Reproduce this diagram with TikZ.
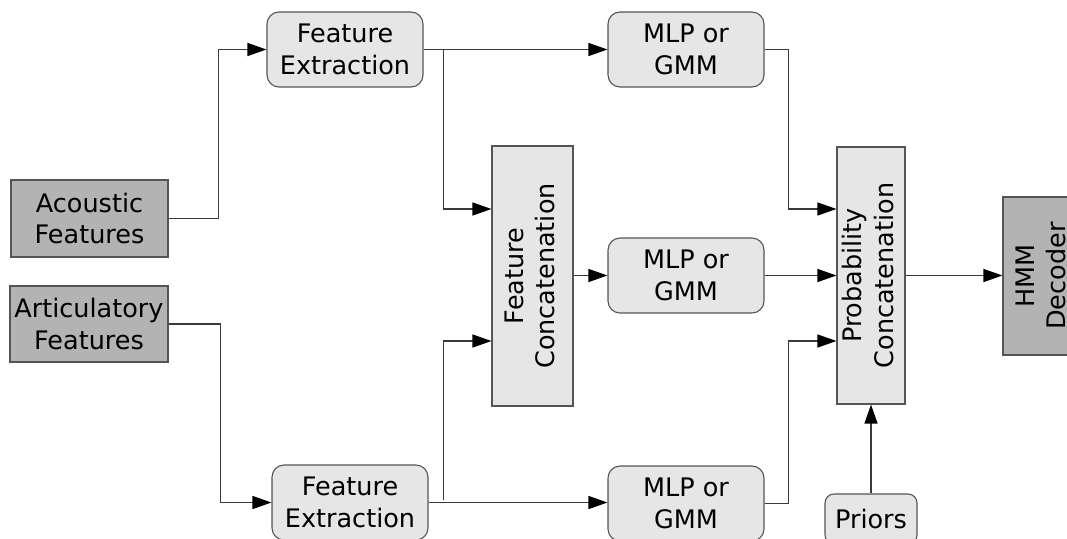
\documentclass[tikz,border=0pt]{standalone}
\usepackage{fontspec}
\setmainfont{DejaVu Sans}
\usetikzlibrary{arrows.meta,positioning,calc}
\definecolor{darkbox}{HTML}{B3B3B3}
\definecolor{lightbox}{HTML}{E6E6E6}
\definecolor{edge}{HTML}{555555}
\definecolor{wire}{HTML}{3A3A3A}
\newcommand{\vtext}[2]{\rotatebox{90}{\begin{tabular}{@{}c@{}}#1\\#2\end{tabular}}}
\begin{document}
\begin{tikzpicture}[x=1pt,y=-1pt,
  every node/.style={font=\fontsize{25.5}{31.5}\selectfont, inner sep=0pt, align=center},
  darkstep/.style={draw=edge, line width=1.1pt, fill=darkbox},
  lightstep/.style={draw=edge, line width=1.1pt, fill=lightbox},
  roundstep/.style={lightstep, rounded corners=12pt},
  conn/.style={draw=wire, line width=1.2pt},
  arr/.style={conn, -{Triangle[length=19pt,width=13pt,color=black]}}
]
\useasboundingbox (0,0) rectangle (1067,538);
\clip (0,0) rectangle (1067,538);
% nodes
\node[darkstep, minimum width=157pt, minimum height=77pt] (ac) at (89.5,218.5) {Acoustic\\Features};
\node[darkstep, minimum width=158pt, minimum height=76pt] (ar) at (89,324) {Articulatory\\Features};
\node[roundstep, minimum width=156pt, minimum height=75pt] (fe1) at (345,49.5) {Feature\\Extraction};
\node[roundstep, minimum width=156pt, minimum height=75pt] (fe2) at (350,502.5) {Feature\\Extraction};
\node[lightstep, minimum width=81pt, minimum height=260pt] (fc) at (532.5,276) {\vtext{Feature}{Concatenation}};
\node[roundstep, minimum width=156pt, minimum height=75pt] (m1) at (686,49.5) {MLP or\\GMM};
\node[roundstep, minimum width=156pt, minimum height=75pt] (m2) at (686,275.5) {MLP or\\GMM};
\node[roundstep, minimum width=156pt, minimum height=75pt] (m3) at (686,503.5) {MLP or\\GMM};
\node[lightstep, minimum width=68pt, minimum height=257pt] (pc) at (871,275.5) {\vtext{Probability}{Concatenation}};
\node[darkstep, minimum width=81pt, minimum height=158pt] (hmm) at (1043.5,276) {\vtext{HMM}{Decoder}};
\node[roundstep, minimum width=92pt, minimum height=50pt, rounded corners=9pt] (pr) at (871,519) {Priors};
% connectors
\draw[arr] (ac.east) -- ++(50,0) |- (fe1.west);
\draw[arr] (ar.east) -- ++(52,0) |- (fe2.west);
\draw[arr] (fe1.east) -- (fe1.east -| m1.west);
\draw[arr] ([xshift=20pt]fe1.east) |- ([yshift=67pt]fc.west);
\draw[arr] (fe2.east) -- (fe2.east -| m3.west);
\draw[arr] ([xshift=15pt,yshift=3pt]fe2.east) |- ([yshift=-65pt]fc.west);
\draw[arr] (fc.east |- m2.west) -- (m2.west);
\draw[arr] (m1.east) -- ++(24,0) |- ([yshift=66.5pt]pc.west);
\draw[arr] (m2.east) -- (m2.east -| pc.west);
\draw[arr] (m3.east) -- ++(24,0) |- ([yshift=-65.5pt]pc.west);
\draw[arr] (pc.east) -- (pc.east -| hmm.west);
\draw[arr] (pr.north) -- (pc.south);
\end{tikzpicture}
\end{document}
